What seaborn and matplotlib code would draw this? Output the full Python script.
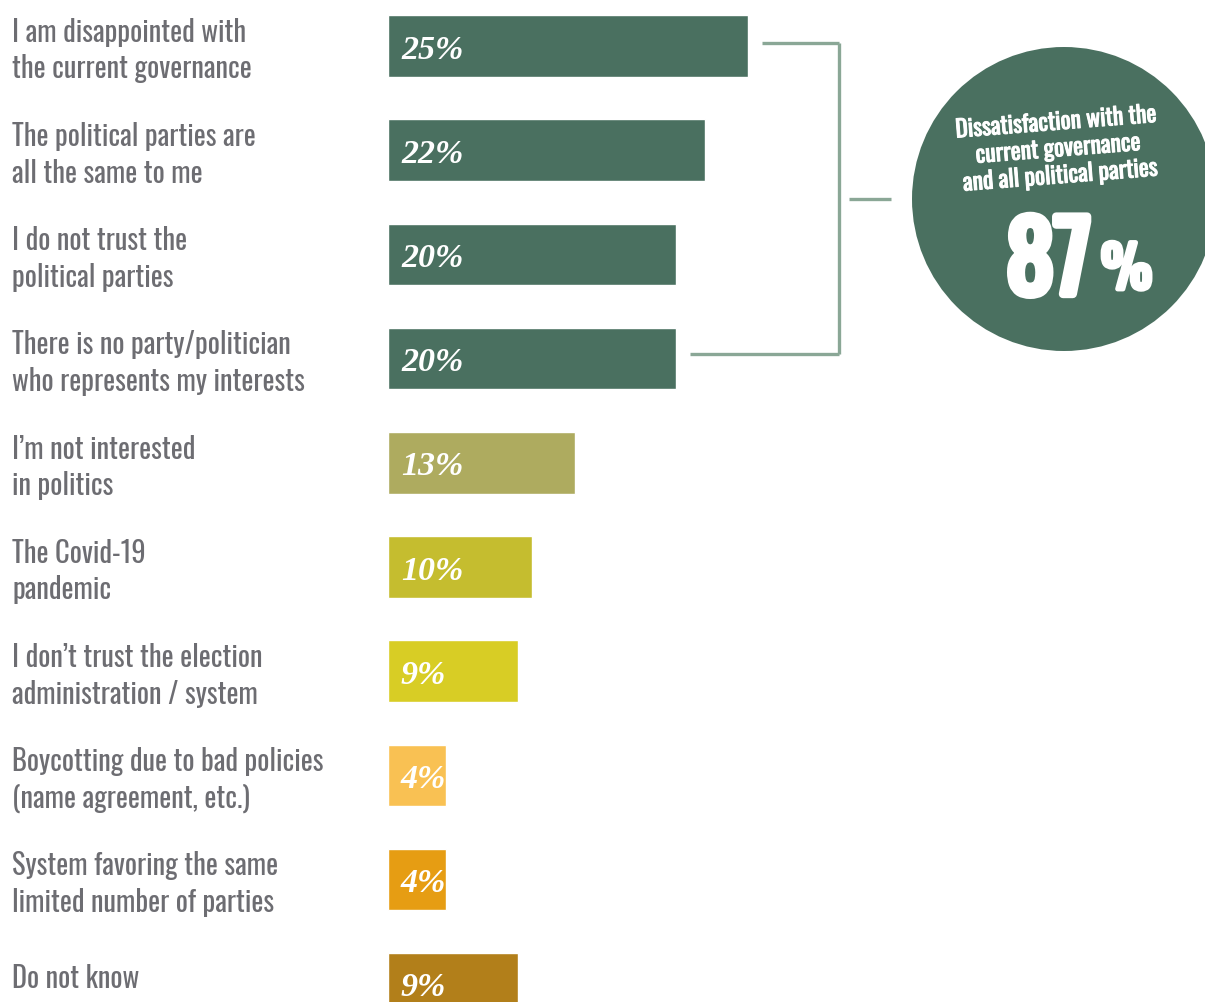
import matplotlib
matplotlib.use("Agg")
import matplotlib.pyplot as plt
import matplotlib.transforms as mtransforms
import matplotlib.patheffects as pe
from matplotlib import font_manager as fm
from matplotlib.patches import Circle
import pandas as pd
import seaborn as sns

# Reasons for not voting
reasons = [
    "I am disappointed with\nthe current governance",
    "The political parties are\nall the same to me",
    "I do not trust the\npolitical parties",
    "There is no party/politician\nwho represents my interests",
    "I\u2019m not interested\nin politics",
    "The Covid-19\npandemic",
    "I don\u2019t trust the election\nadministration / system",
    "Boycotting due to bad policies\n(name agreement, etc.)",
    "System favoring the same\nlimited number of parties",
    "Do not know",
]
shares = [25, 22, 20, 20, 13, 10, 9, 4, 4, 9]
bar_colors = ["#4a7060", "#4a7060", "#4a7060", "#4a7060", "#aeab5f",
              "#c5bd2f", "#d8cd25", "#f9c153", "#e69d13", "#b27f1a"]

summary_title = "Dissatisfaction with the\ncurrent governance\nand all political parties"
summary_value = "87"

df = pd.DataFrame({"reason": reasons, "share": shares})

sns.set_theme(style="white")

# Prefer a narrow sans face when one is installed
installed = {f.name for f in fm.fontManager.ttflist}
narrow = [n for n in ["Oswald", "Roboto Condensed", "Liberation Sans Narrow",
                      "DejaVu Sans Condensed", "Noto Sans Condensed",
                      "Open Sans Condensed", "Arial Narrow"] if n in installed]
narrow += sorted({f.name for f in fm.fontManager.ttflist
                  if f.stretch in ("condensed", "semi-condensed",
                                   "extra-condensed", "ultra-condensed")
                  and f.name not in narrow})
sans_family = narrow[:1] + ["Roboto", "DejaVu Sans"]
plt.rcParams["font.family"] = sans_family
stretch = "condensed" if narrow else "normal"

W, H = 1205, 1003
fig = plt.figure(figsize=(W / 100, H / 100), dpi=100)
fig.patch.set_facecolor("white")
renderer = fig.canvas.get_renderer()


def fit_size(text, target_px, ref_size, **kw):
    t = fig.text(0, 0, text, fontsize=ref_size, **kw)
    w = t.get_window_extent(renderer=renderer).width
    t.remove()
    return ref_size * target_px / w


label_size = min(22.0, fit_size("I am disappointed with", 235, 20,
                                fontstretch=stretch))
title_size = min(17.0, fit_size("Dissatisfaction with the", 220, 16,
                                weight="bold", fontstretch=stretch))
big_size = min(76.0, 0.94 * fit_size(summary_value, 90, 60, weight="bold",
                                     fontstretch=stretch))

px_per_pct = 14.4
left_px = 388
row_gap = 104.2
first_row = 47.0
ax = fig.add_axes([left_px / W, 0, (W - left_px) / W, 1])
sns.barplot(data=df, y="reason", x="share", hue="reason", palette=bar_colors,
            orient="h", width=61.5 / row_gap, legend=False, ax=ax,
            saturation=1)
ax.set_xlim(0, (W - left_px) / px_per_pct)
ax.set_ylim((H - first_row) / row_gap, -first_row / row_gap)
ax.axis("off")

# Category labels on the left
lab_tr = mtransforms.blended_transform_factory(fig.transFigure, ax.transData)
for i, r in enumerate(reasons):
    dy = 0.035 if "\n" in r else -0.06
    ax.text(12 / W, i + dy, r, transform=lab_tr, ha="left", va="center",
            fontsize=label_size, fontstretch=stretch, color="#6d6d72",
            linespacing=1.32)

# Value labels inside the bars
for i, v in enumerate(shares):
    ax.text(0.9, i + 0.03, f"{v}%", ha="left", va="center",
            family=["Liberation Serif", "DejaVu Serif"], style="italic",
            weight="bold", fontsize=24.5, color="white")

# Bracket grouping the four dissatisfaction reasons
line_kw = dict(color="#8aa796", lw=2.4, solid_capstyle="butt", clip_on=False)
bx = 31.35
gap = 1.0
top_y = -0.025
bot_y = 3 - 0.04
ax.plot([shares[0] + gap, bx], [top_y, top_y], **line_kw)
ax.plot([bx, bx], [top_y, bot_y], **line_kw)
ax.plot([shares[3] + gap, bx], [bot_y, bot_y], **line_kw)
ax.plot([bx + 0.65, bx + 3.6], [(top_y + bot_y) / 2, (top_y + bot_y) / 2],
        **line_kw)

# Summary bubble
ov = fig.add_axes([0, 0, 1, 1], facecolor="none")
ov.set_xlim(0, W)
ov.set_ylim(H, 0)
ov.axis("off")
ov.add_patch(Circle((1064, 200), 152, color="#4a7060", lw=0))
ov.text(1058, 150, summary_title, ha="center", va="center", rotation=4.5,
        rotation_mode="anchor", fontsize=title_size, weight="bold",
        fontstretch=stretch, color="white", linespacing=1.2,
        path_effects=[pe.withStroke(linewidth=0.7, foreground="white")])
ov.text(1091, 295, summary_value, ha="right", va="baseline",
        fontsize=big_size, weight="bold", fontstretch=stretch, color="white",
        path_effects=[pe.withStroke(linewidth=6, foreground="white")])
ov.text(1101, 290, "%", ha="left", va="baseline", fontsize=big_size * 0.6,
        weight="bold", fontstretch=stretch, color="white",
        path_effects=[pe.withStroke(linewidth=3.5, foreground="white")])

fig.savefig("out.png", dpi=100, facecolor="white")
